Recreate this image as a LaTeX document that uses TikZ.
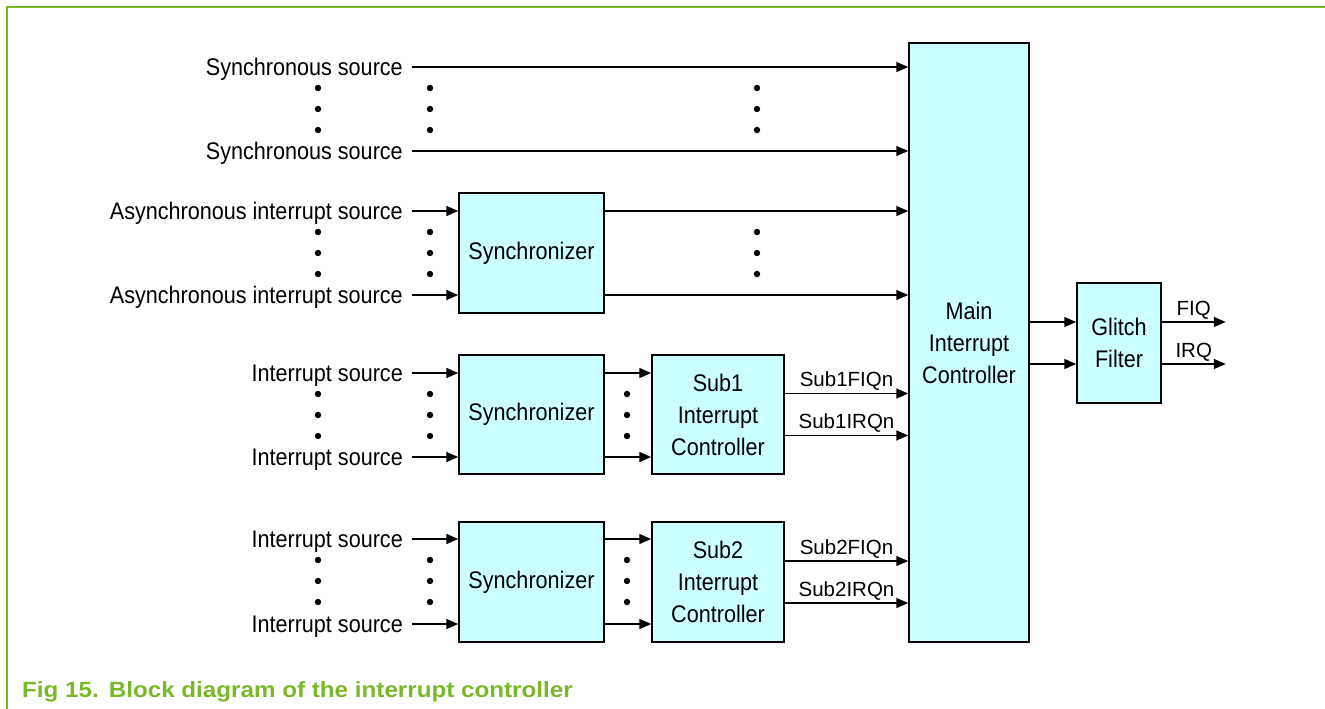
\documentclass[tikz,border=0pt]{standalone}
\usepackage{fontspec}
\setmainfont{Liberation Sans}
\newfontfamily\narrowfont[FakeStretch=0.9]{Liberation Sans}
\newfontfamily\capfont[FakeStretch=1.1]{Liberation Sans}
\usetikzlibrary{arrows.meta, positioning, calc}
\definecolor{boxcyan}{RGB}{204,255,255}
\definecolor{figgreen}{RGB}{122,184,42}

\begin{document}
\begin{tikzpicture}[
    x = 1pt, y = -1pt,
    blk/.style = {draw = black, line width = 1.5pt, fill = boxcyan,
                  inner sep = 0pt, align = center,
                  font = \narrowfont\fontsize{24}{32}\selectfont},
    src/.style = {anchor = base east, inner sep = 0pt,
                  font = \narrowfont\fontsize{24}{28}\selectfont},
    sig/.style = {font = \fontsize{20.5}{22}\selectfont, inner sep = 2pt},
    arr/.style = {-{Triangle[length=12pt, width=10pt]}, line width = 1.6pt},
  ]
    \useasboundingbox (0,0) rectangle (1325,709);

    %% ── Frame ────────────────────────────────────────────────────
    \draw[figgreen, line width = 1.5pt] (7,709) -- (7,7) -- (1325,7);

    %% ── Blocks ───────────────────────────────────────────────────
    \node[blk, minimum width = 120pt, minimum height = 599pt] (main)
      at (969, 342.5) {Main\\Interrupt\\Controller};
    \node[blk, minimum width = 84pt, minimum height = 120pt] (glitch)
      at (1119, 343) {Glitch\\Filter};
    \node[blk, minimum width = 145pt, minimum height = 120pt] (sync1)
      at (531.5, 253) {Synchronizer};
    \node[blk, minimum width = 145pt, minimum height = 119pt] (sync2)
      at (531.5, 414.5) {Synchronizer};
    \node[blk, minimum width = 145pt, minimum height = 120pt] (sync3)
      at (531.5, 582) {Synchronizer};
    \node[blk, minimum width = 132pt, minimum height = 119pt] (sub1)
      at (718, 414.5) {Sub1\\Interrupt\\Controller};
    \node[blk, minimum width = 132pt, minimum height = 120pt] (sub2)
      at (718, 582) {Sub2\\Interrupt\\Controller};

    %% ── Source labels (base line 8pt below the wire) ─────────────
    \node[src] (ss1) at (403, 75)  {Synchronous source};
    \node[src] (ss2) at (403, 159) {Synchronous source};
    \node[src] (as1) at (403, 219) {Asynchronous interrupt source};
    \node[src] (as2) at (403, 303) {Asynchronous interrupt source};
    \node[src] (is1) at (403, 381) {Interrupt source};
    \node[src] (is2) at (403, 465) {Interrupt source};
    \node[src] (is3) at (403, 547) {Interrupt source};
    \node[src] (is4) at (403, 632) {Interrupt source};

    %% ── Wire heights ─────────────────────────────────────────────
    \foreach \n in {ss1, ss2, as1, as2, is1, is2, is3, is4}
      \coordinate (w-\n) at ($(\n.base east) + (9,-8)$);

    %% ── Inputs ───────────────────────────────────────────────────
    \draw[arr] (w-ss1) -- (w-ss1 -| main.west);
    \draw[arr] (w-ss2) -- (w-ss2 -| main.west);
    \draw[arr] (w-as1) -- (w-as1 -| sync1.west);
    \draw[arr] (w-as2) -- (w-as2 -| sync1.west);
    \draw[arr] (w-is1) -- (w-is1 -| sync2.west);
    \draw[arr] (w-is2) -- (w-is2 -| sync2.west);
    \draw[arr] (w-is3) -- (w-is3 -| sync3.west);
    \draw[arr] (w-is4) -- (w-is4 -| sync3.west);

    %% ── Synchronizer outputs ─────────────────────────────────────
    \draw[arr] (w-as1 -| sync1.east) -- (w-as1 -| main.west);
    \draw[arr] (w-as2 -| sync1.east) -- (w-as2 -| main.west);
    \draw[arr] (w-is1 -| sync2.east) -- (w-is1 -| sub1.west);
    \draw[arr] (w-is2 -| sync2.east) -- (w-is2 -| sub1.west);
    \draw[arr] (w-is3 -| sync3.east) -- (w-is3 -| sub2.west);
    \draw[arr] (w-is4 -| sync3.east) -- (w-is4 -| sub2.west);

    %% ── Sub controller outputs ───────────────────────────────────
    \coordinate (s1f) at ($(sub1.east) + (0,-21)$);
    \coordinate (s1i) at ($(sub1.east) + (0, 21)$);
    \coordinate (s2f) at ($(sub2.east) + (0,-21)$);
    \coordinate (s2i) at ($(sub2.east) + (0, 21)$);
    \draw[arr] (s1f) -- node[sig, above] {Sub1FIQn} (s1f -| main.west);
    \draw[arr] (s1i) -- node[sig, above] {Sub1IRQn} (s1i -| main.west);
    \draw[arr] (s2f) -- node[sig, above] {Sub2FIQn} (s2f -| main.west);
    \draw[arr] (s2i) -- node[sig, above] {Sub2IRQn} (s2i -| main.west);

    %% ── Main controller to glitch filter ─────────────────────────
    \coordinate (gf) at ($(glitch.west) + (0,-21)$);
    \coordinate (gi) at ($(glitch.west) + (0, 21)$);
    \draw[arr] (gf -| main.east) -- (gf);
    \draw[arr] (gi -| main.east) -- (gi);

    %% ── Outputs ──────────────────────────────────────────────────
    \coordinate (fiq) at ($(glitch.east) + (64,-21)$);
    \coordinate (irq) at ($(glitch.east) + (64, 21)$);
    \draw[arr] (fiq -| glitch.east) -- node[sig, above] {FIQ} (fiq);
    \draw[arr] (irq -| glitch.east) -- node[sig, above] {IRQ} (irq);

    %% ── Ellipsis dots ────────────────────────────────────────────
    \foreach \top/\xx in {67/757, 211/757, 373/627, 539/627}
      \foreach \k in {1,2,3}
        \foreach \x in {318, 430, \xx}
          \fill (\x, \top + 21*\k) circle (3.2pt);

    %% ── Caption ──────────────────────────────────────────────────
    \node[anchor = base west, inner sep = 0pt, text = figgreen,
          font = \capfont\bfseries\fontsize{22}{24}\selectfont] (cap)
      at (22, 697) {Fig 15.\hspace{10pt}Block diagram of the interrupt controller};
  \end{tikzpicture}
\end{document}
